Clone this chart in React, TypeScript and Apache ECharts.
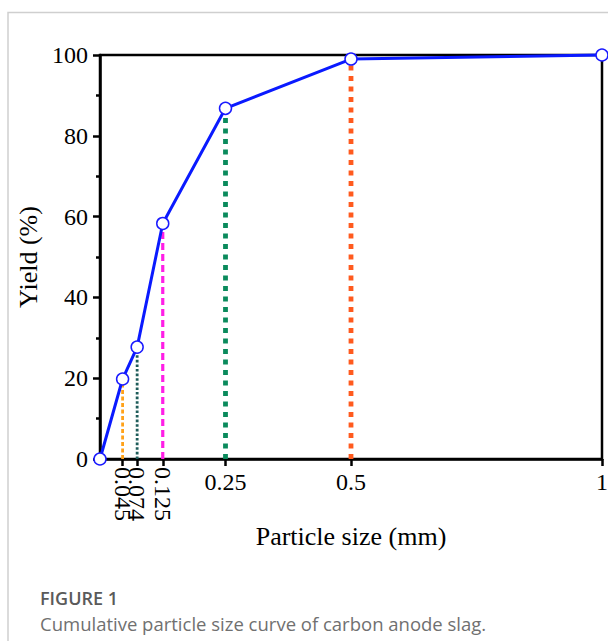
import React, { useEffect, useRef } from "react";
import * as echarts from "echarts";

const sizes = [0, 0.045, 0.074, 0.125, 0.25, 0.5, 1];
const yields = [0, 19.8, 27.7, 58.3, 86.8, 99.0, 100];
const rotatedTicks = [0.045, 0.074, 0.125];
const flatTicks = [0.25, 0.5, 1];
const yTicks = [0, 20, 40, 60, 80, 100];
const dropColors = ["#FFA21A", "#1E5C5A", "#FF1EE6", "#0A8A5C", "#FF5A1E"];
const dropWidths = [2.8, 2.8, 3.2, 4.8, 4.8];
const dropDashes = [[4, 2.5], [2.6, 2], [7, 4], [5, 5.5], [5, 5.5]];

const SERIF = "'Liberation Serif', 'Times New Roman', serif";
const SANS = "'Open Sans', 'Noto Sans', sans-serif";

export default function App() {
  const ref = useRef<HTMLDivElement>(null);
  useEffect(() => {
    if (!ref.current) return;
    const chart = echarts.init(ref.current, null, { renderer: "svg" });
    const dropSeries = sizes.slice(1, 6).map((x, i) => ({
      type: "line",
      data: [
        [x, 0],
        [x, yields[i + 1]],
      ],
      symbol: "none",
      silent: true,
      z: 1,
      lineStyle: {
        color: dropColors[i],
        width: dropWidths[i],
        type: dropDashes[i],
        cap: "butt",
      },
    }));
    const axisCommon = {
      type: "value",
      min: 0,
      max: 1,
      position: "bottom",
      splitLine: { show: false },
      axisLine: { show: true, onZero: false, lineStyle: { color: "#000", width: 2.5 } },
    };
    const rotatedAxes = rotatedTicks.map((v) => ({
      ...axisCommon,
      axisLine: { show: false },
      axisTick: { show: false },
      axisLabel: {
        customValues: [v],
        rotate: -90,
        margin: 8,
        hideOverlap: false,
        showMinLabel: true,
        showMaxLabel: true,
        fontFamily: SERIF,
        fontSize: 24,
        color: "#000",
        formatter: (val: number) => String(val),
      },
    }));
    chart.setOption({
      animation: false,
      backgroundColor: "#fff",
      grid: {
        left: 100,
        right: 6,
        top: 55,
        bottom: 182,
        show: true,
        borderColor: "#000",
        borderWidth: 2.5,
        containLabel: false,
        outerBoundsMode: "none",
      },
      xAxis: [
        {
          ...axisCommon,
          name: "Particle size (mm)",
          nameLocation: "middle",
          nameGap: 64,
          nameTextStyle: { fontFamily: SERIF, fontSize: 26, color: "#000" },
          axisTick: {
            show: true,
            inside: false,
            length: 7,
            customValues: [...rotatedTicks, ...flatTicks],
            lineStyle: { color: "#000", width: 2.5 },
          },
          axisLabel: {
            customValues: flatTicks,
            margin: 11,
            hideOverlap: false,
            fontFamily: SERIF,
            fontSize: 24,
            color: "#000",
            formatter: (v: number) => String(v),
          },
        },
        ...rotatedAxes,
      ],
      yAxis: {
        type: "value",
        min: 0,
        max: 100,
        interval: 20,
        name: "Yield (%)",
        nameLocation: "middle",
        nameGap: 56,
        nameTextStyle: { fontFamily: SERIF, fontSize: 26, color: "#000" },
        splitLine: { show: false },
        axisLine: { show: true, lineStyle: { color: "#000", width: 2.5 } },
        axisTick: { show: true, length: 7, lineStyle: { color: "#000", width: 2.5 } },
        minorTick: { show: true, splitNumber: 2, length: 4, lineStyle: { color: "#000", width: 2.5 } },
        axisLabel: {
          margin: 12,
          fontFamily: SERIF,
          fontSize: 24,
          color: "#000",
          customValues: yTicks,
        },
      },
      series: [
        ...dropSeries,
        {
          type: "line",
          data: sizes.map((x, i) => [x, yields[i]]),
          z: 5,
          clip: false,
          symbol: "circle",
          symbolSize: 12,
          itemStyle: { color: "#fff", borderColor: "#1a1aff", borderWidth: 1.5 },
          lineStyle: { color: "#0a1aff", width: 3 },
        },
      ],
      graphic: [
        {
          type: "polyline",
          shape: { points: [[8, 641], [8, 12.5], [608, 12.5]] },
          style: { stroke: "#cfcfcf", lineWidth: 1.5, fill: "none" },
          silent: true,
        },
        {
          type: "text",
          left: 40,
          top: 588,
          style: {
            text: "FIGURE 1",
            fontFamily: SANS,
            fontWeight: 600,
            fontSize: 18,
            lineHeight: 20,
            fill: "#5a5a5a",
          },
        },
        {
          type: "text",
          left: 40,
          top: 613,
          style: {
            text: "Cumulative particle size curve of carbon anode slag.",
            fontFamily: SANS,
            fontSize: 18.5,
            lineHeight: 20,
            fill: "#707070",
          },
        },
      ],
    });
    return () => chart.dispose();
  }, []);
  return (
    <div
      ref={ref}
      style={{ position: "fixed", left: 0, top: 0, width: 608, height: 641, background: "#fff" }}
    />
  );
}
